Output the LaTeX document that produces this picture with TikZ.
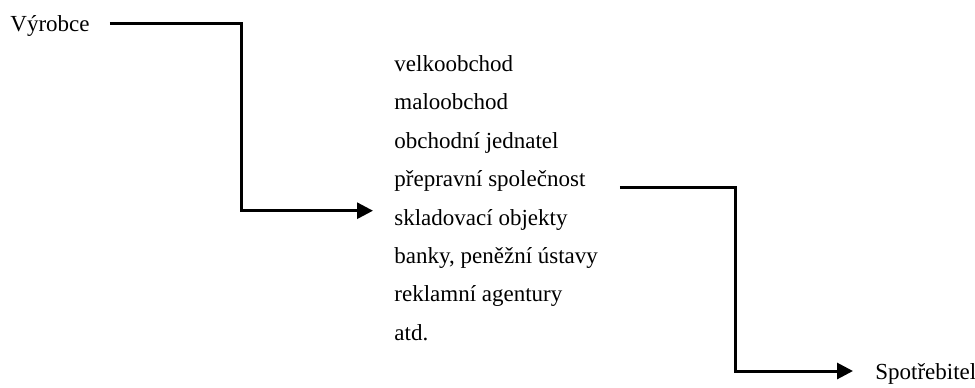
\documentclass[tikz,border=0pt]{standalone}
\usepackage{fontspec}
\setmainfont{Liberation Serif}
\usetikzlibrary{arrows.meta,calc,positioning}

\begin{document}
\begin{tikzpicture}[x=0.5pt,y=-0.5pt,>={Triangle[length=8pt,width=8pt]},
  txt/.style={inner sep=0pt,anchor=base west,font=\fontsize{11.5}{14}\selectfont},
  flow/.style={->,line width=1.5pt}]
\useasboundingbox (0,0) rectangle (975,387);
\node[txt] (vyr) at (10,31.7) {Výrobce};
\node[txt] (velk) at (394,71.5) {velkoobchod};
\node[txt] (malo) at ([yshift=-19.2pt]velk.base west) {maloobchod};
\node[txt] (jedn) at ([yshift=-19.2pt]malo.base west) {obchodní jednatel};
\node[txt] (prep) at ([yshift=-19.2pt]jedn.base west) {přepravní společnost};
\node[txt] (sklad) at ([yshift=-19.2pt]prep.base west) {skladovací objekty};
\node[txt] (banky) at ([yshift=-19.2pt]sklad.base west) {banky, peněžní ústavy};
\node[txt] (rekl) at ([yshift=-19.2pt]banky.base west) {reklamní agentury};
\node[txt] (atd) at ([yshift=-19.2pt]rekl.base west) {atd.};
\node[txt] (spot) at (875,379) {Spotřebitel};
\coordinate (v0) at ([xshift=10pt,yshift=4pt]vyr.base east);
\coordinate (turn1) at (241,0);
\coordinate (p0) at ([xshift=17pt,yshift=-0.3pt]prep.base east);
\coordinate (turn2) at (735,0);
\draw[flow] (v0) -- (v0 -| turn1) |- ([xshift=-10.5pt,yshift=7.2pt]sklad.base west);
\draw[flow] (p0) -- (p0 -| turn2) |- ([xshift=-11pt,yshift=4pt]spot.base west);
\end{tikzpicture}
\end{document}
